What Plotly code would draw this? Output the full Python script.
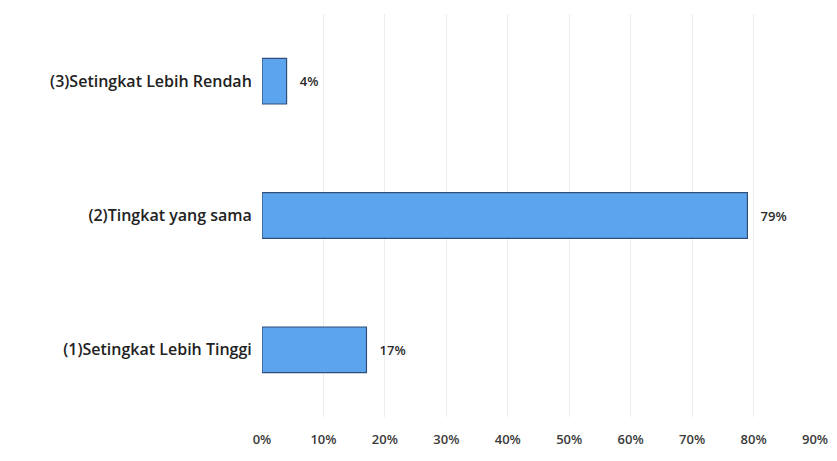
import plotly.graph_objects as go

categories = ["(1)Setingkat Lebih Tinggi", "(2)Tingkat yang sama", "(3)Setingkat Lebih Rendah"]
values = [0.17, 0.79, 0.04]
labels = ["17%", "79%", "4%"]
tick_vals = [0, 0.1, 0.2, 0.3, 0.4, 0.5, 0.6, 0.7, 0.8, 0.9]
tick_text = ["0%", "10%", "20%", "30%", "40%", "50%", "60%", "70%", "80%", "90%"]

fig = go.Figure(go.Bar(
    y=categories, x=values, orientation="h",
    text=labels, textposition="outside",
    texttemplate="   %{text}",
    textfont=dict(size=13, color="#2a2a2a", family="Open Sans", weight=600),
    marker=dict(color="#5ca4ee", line=dict(color="#2f4f7a", width=1.2)),
    width=0.34, cliponaxis=False,
))
fig.update_layout(
    width=829, height=453,
    margin=dict(l=254, r=22, t=6, b=44),
    paper_bgcolor="white", plot_bgcolor="white",
    font=dict(family="Open Sans", size=13, color="#2a2a2a"),
    showlegend=False,
    xaxis=dict(range=[0, 0.9], tickvals=tick_vals, ticktext=tick_text,
               showgrid=True, gridcolor="#ececec", gridwidth=1,
               zeroline=False, showline=False, ticks="outside", ticklen=10,
               tickcolor="rgba(0,0,0,0)",
               automargin=False,
               tickfont=dict(size=13, color="#3a3a3a", family="Open Sans", weight=600)),
    yaxis=dict(showgrid=False, zeroline=False, showline=False,
               ticks="outside", ticklen=6, tickcolor="rgba(0,0,0,0)", automargin=False,
               tickfont=dict(size=16, color="#222222", family="Open Sans", weight=600)),
)
fig.write_html("out.html")
